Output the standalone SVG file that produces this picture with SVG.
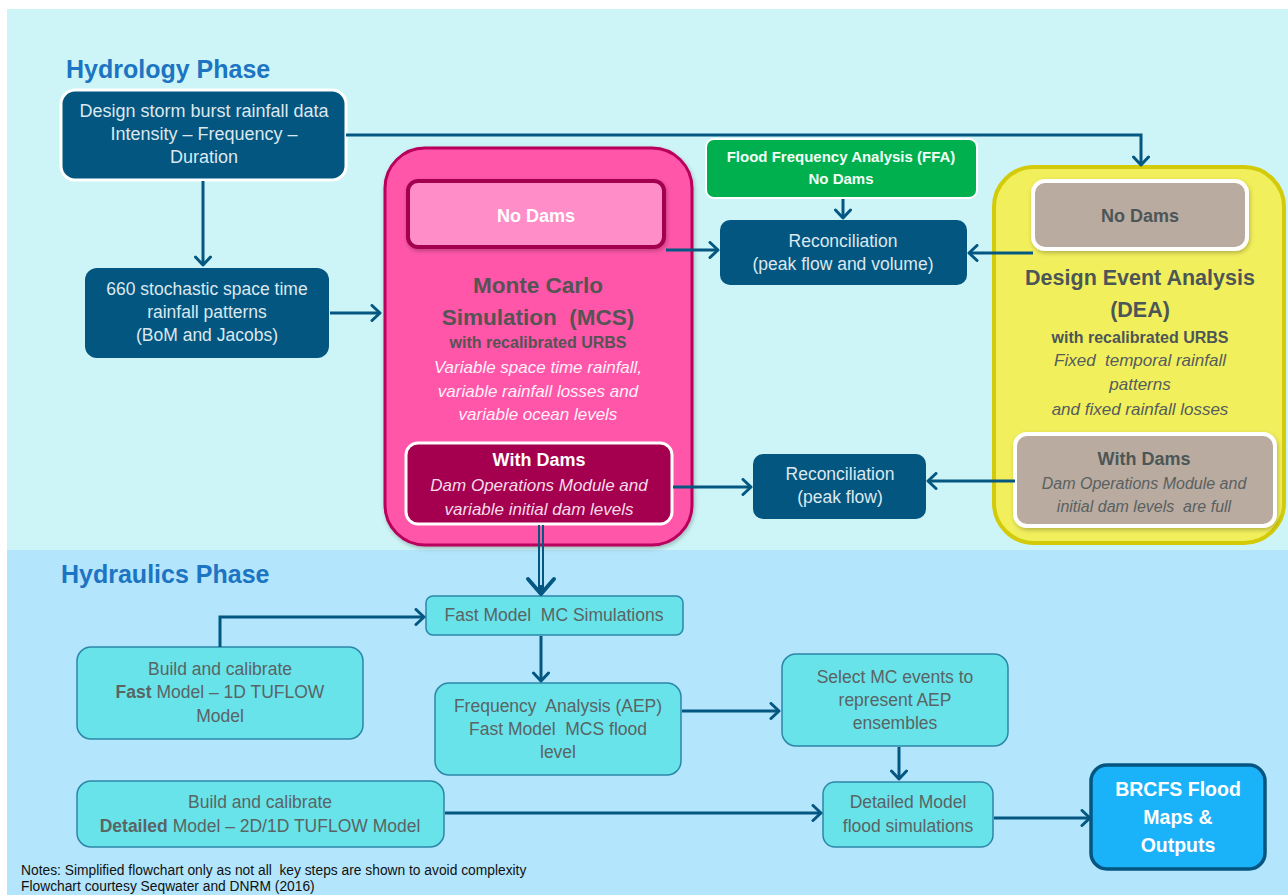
<svg xmlns="http://www.w3.org/2000/svg" width="1288" height="895" viewBox="0 0 1288 895">
<defs>
<marker id="arr" markerUnits="userSpaceOnUse" markerWidth="14" markerHeight="18" refX="10" refY="9" orient="auto">
<path d="M2,1.5 L10,9 L2,16.5" fill="none" stroke="#045781" stroke-width="3" stroke-linecap="round" stroke-linejoin="round"/>
</marker>
<marker id="arrBig" markerUnits="userSpaceOnUse" markerWidth="24" markerHeight="32" refX="18" refY="16" orient="auto">
<path d="M3,3 L18,16 L3,29" fill="none" stroke="#045781" stroke-width="4" stroke-linecap="round" stroke-linejoin="round"/>
</marker>
<filter id="sh" x="-10%" y="-10%" width="120%" height="125%">
<feDropShadow dx="1" dy="2" stdDeviation="2" flood-color="#000" flood-opacity="0.25"/>
</filter>
</defs>
<style>
text{font-family:"Liberation Sans",Arial,sans-serif;text-anchor:middle}
.dk{fill:#03567f;stroke:#ffffff;stroke-width:3}
.dkt{fill:#dce8f0;font-size:17.5px}
.hy{fill:#68e3ea;stroke:#2c86a8;stroke-width:1.5}
.hyt{fill:#5a6464;font-size:17.5px}
.title{fill:#1c74c2;font-size:25px;font-weight:bold;text-anchor:start}
.con{fill:none;stroke:#045781;stroke-width:3}
.ita{font-style:italic;font-size:17px}
.b{font-weight:bold}
.note{fill:#111;font-size:13.8px;text-anchor:start}
</style>
<rect x="0" y="0" width="1288" height="895" fill="#ffffff"/>
<rect x="7" y="9" width="1281" height="541" fill="#cdf5f7"/>
<rect x="7" y="550" width="1281" height="345" fill="#b3e5fc"/>
<text class="title" x="66" y="78">Hydrology Phase</text>
<text class="title" x="61" y="583">Hydraulics Phase</text>

<g id="n-design-storm">
<rect class="dk" x="61" y="90" width="285" height="90" rx="14"/>
<text class="dkt" x="204" y="117" style="font-size:18px">Design storm burst rainfall data</text>
<text class="dkt" x="204" y="140" style="font-size:18px">Intensity – Frequency –</text>
<text class="dkt" x="204" y="163" style="font-size:18px">Duration</text>
</g>
<g id="n-stochastic">
<rect x="85" y="268" width="244" height="90" rx="12" fill="#03567f"/>
<text class="dkt" x="207" y="295">660 stochastic space time</text>
<text class="dkt" x="207" y="318">rainfall patterns</text>
<text class="dkt" x="207" y="341">(BoM and Jacobs)</text>
</g>
<g id="n-mcs">
<rect x="385" y="148" width="307" height="397" rx="40" fill="#ff57a9" stroke="#b8005c" stroke-width="3" filter="url(#sh)"/>
<rect x="408" y="181" width="256" height="66" rx="10" fill="#ff8ec8" stroke="#a30050" stroke-width="4" filter="url(#sh)"/>
<text x="536" y="222" fill="#ffffff" class="b" style="font-size:18px">No Dams</text>
<text x="538" y="293" fill="#545454" class="b" style="font-size:22.5px">Monte Carlo</text>
<text x="538" y="325" fill="#545454" class="b" style="font-size:22.5px" xml:space="preserve">Simulation  (MCS)</text>
<text x="538" y="348" fill="#545454" class="b" style="font-size:16px">with recalibrated URBS</text>
<text x="538" y="373" fill="#fff1f8" class="ita">Variable space time rainfall,</text>
<text x="538" y="397" fill="#fff1f8" class="ita">variable rainfall losses and</text>
<text x="538" y="420" fill="#fff1f8" class="ita">variable ocean levels</text>
<rect x="406" y="443" width="266" height="81" rx="12" fill="#a5004f" stroke="#ffffff" stroke-width="3"/>
<text x="539" y="466" fill="#ffffff" class="b" style="font-size:18px">With Dams</text>
<text x="539" y="491" fill="#f5dbe8" class="ita">Dam Operations Module and</text>
<text x="539" y="515" fill="#f5dbe8" class="ita">variable initial dam levels</text>
</g>
<g id="n-ffa">
<rect x="706" y="139" width="271" height="59" rx="8" fill="#00b04f" stroke="#ffffff" stroke-width="2"/>
<text x="841" y="162" fill="#f2fff6" class="b" style="font-size:15px">Flood Frequency Analysis (FFA)</text>
<text x="841" y="184" fill="#f2fff6" class="b" style="font-size:15px">No Dams</text>
</g>
<g id="n-recon1">
<rect x="720" y="220" width="247" height="65" rx="10" fill="#03567f"/>
<text class="dkt" x="843" y="247">Reconciliation</text>
<text class="dkt" x="843" y="270">(peak flow and volume)</text>
</g>
<g id="n-recon2">
<rect x="753" y="454" width="173" height="65" rx="10" fill="#03567f"/>
<text class="dkt" x="840" y="480">Reconciliation</text>
<text class="dkt" x="840" y="503">(peak flow)</text>
</g>
<g id="n-dea">
<rect x="994" y="167" width="290" height="376" rx="40" fill="#f2ef5c" stroke="#d3cb0a" stroke-width="4"/>
<rect x="1033" y="181" width="214" height="68" rx="12" fill="#b9aba0" stroke="#ffffff" stroke-width="4" filter="url(#sh)"/>
<text x="1140" y="222" fill="#4c5656" class="b" style="font-size:18px">No Dams</text>
<text x="1140" y="285" fill="#4c5656" class="b" style="font-size:21.5px">Design Event Analysis</text>
<text x="1140" y="317" fill="#4c5656" class="b" style="font-size:21.5px">(DEA)</text>
<text x="1140" y="343" fill="#4c5656" class="b" style="font-size:16px">with recalibrated URBS</text>
<text x="1140" y="366" fill="#555c5c" class="ita" xml:space="preserve">Fixed  temporal rainfall</text>
<text x="1140" y="390" fill="#555c5c" class="ita">patterns</text>
<text x="1140" y="415" fill="#555c5c" class="ita">and fixed rainfall losses</text>
<rect x="1015" y="434" width="260" height="92" rx="12" fill="#b9aba0" stroke="#ffffff" stroke-width="4" filter="url(#sh)"/>
<text x="1144" y="465" fill="#4c5656" class="b" style="font-size:18px">With Dams</text>
<text x="1144" y="489" fill="#5a6060" class="ita" style="font-size:16px">Dam Operations Module and</text>
<text x="1144" y="512" fill="#5a6060" class="ita" style="font-size:16px" xml:space="preserve">initial dam levels  are full</text>
</g>

<g id="n-fastmc">
<rect class="hy" x="426" y="596" width="257" height="39" rx="7"/>
<text class="hyt" x="554" y="621" xml:space="preserve">Fast Model  MC Simulations</text>
</g>
<g id="n-buildfast">
<rect class="hy" x="77" y="647" width="286" height="92" rx="14"/>
<text class="hyt" x="220" y="675">Build and calibrate</text>
<text class="hyt" x="220" y="698"><tspan class="b">Fast</tspan> Model – 1D TUFLOW</text>
<text class="hyt" x="220" y="722">Model</text>
</g>
<g id="n-freq">
<rect class="hy" x="435" y="683" width="246" height="92" rx="14"/>
<text class="hyt" x="558" y="712" xml:space="preserve">Frequency  Analysis (AEP)</text>
<text class="hyt" x="558" y="735" xml:space="preserve">Fast Model  MCS flood</text>
<text class="hyt" x="558" y="758">level</text>
</g>
<g id="n-select">
<rect class="hy" x="782" y="654" width="226" height="92" rx="14"/>
<text class="hyt" x="895" y="683">Select MC events to</text>
<text class="hyt" x="895" y="706">represent AEP</text>
<text class="hyt" x="895" y="729">ensembles</text>
</g>
<g id="n-builddetailed">
<rect class="hy" x="77" y="781" width="367" height="66" rx="14"/>
<text class="hyt" x="260" y="808">Build and calibrate</text>
<text class="hyt" x="260" y="832"><tspan class="b">Detailed</tspan> Model – 2D/1D TUFLOW Model</text>
</g>
<g id="n-detailedsim">
<rect class="hy" x="823" y="782" width="170" height="65" rx="12"/>
<text class="hyt" x="908" y="808">Detailed Model</text>
<text class="hyt" x="908" y="832">flood simulations</text>
</g>
<g id="n-brcfs">
<rect x="1091" y="765" width="174" height="104" rx="16" fill="#1ab2f8" stroke="#04557f" stroke-width="3.5"/>
<text x="1178" y="796" fill="#ffffff" class="b" style="font-size:19.5px">BRCFS Flood</text>
<text x="1178" y="824" fill="#ffffff" class="b" style="font-size:19.5px">Maps &amp;</text>
<text x="1178" y="852" fill="#ffffff" class="b" style="font-size:19.5px">Outputs</text>
</g>

<g id="connectors">
<path class="con" d="M346,135 H1141 V165" marker-end="url(#arr)"/>
<path class="con" d="M203,181 V265" marker-end="url(#arr)"/>
<path class="con" d="M330,313 H380" marker-end="url(#arr)"/>
<path class="con" d="M843,199 V218" marker-end="url(#arr)"/>
<path class="con" d="M666,250 H718" marker-end="url(#arr)"/>
<path class="con" d="M1033,253 H969" marker-end="url(#arr)"/>
<path class="con" d="M673,487 H751" marker-end="url(#arr)"/>
<path class="con" d="M1015,481 H928" marker-end="url(#arr)"/>
<path d="M539,525 V592 M543,525 V592" fill="none" stroke="#045781" stroke-width="2"/>
<path class="con" d="M541,585 V594" marker-end="url(#arrBig)"/>
<path class="con" d="M220,647 V617 H424" marker-end="url(#arr)"/>
<path class="con" d="M541,636 V681" marker-end="url(#arr)"/>
<path class="con" d="M682,711 H779" marker-end="url(#arr)"/>
<path class="con" d="M899,747 V779" marker-end="url(#arr)"/>
<path class="con" d="M445,813 H821" marker-end="url(#arr)"/>
<path class="con" d="M994,818 H1090" marker-end="url(#arr)"/>
</g>

<text class="note" x="21" y="875" xml:space="preserve">Notes: Simplified flowchart only as not all  key steps are shown to avoid complexity</text>
<text class="note" x="21" y="891">Flowchart courtesy Seqwater and DNRM (2016)</text>
</svg>
